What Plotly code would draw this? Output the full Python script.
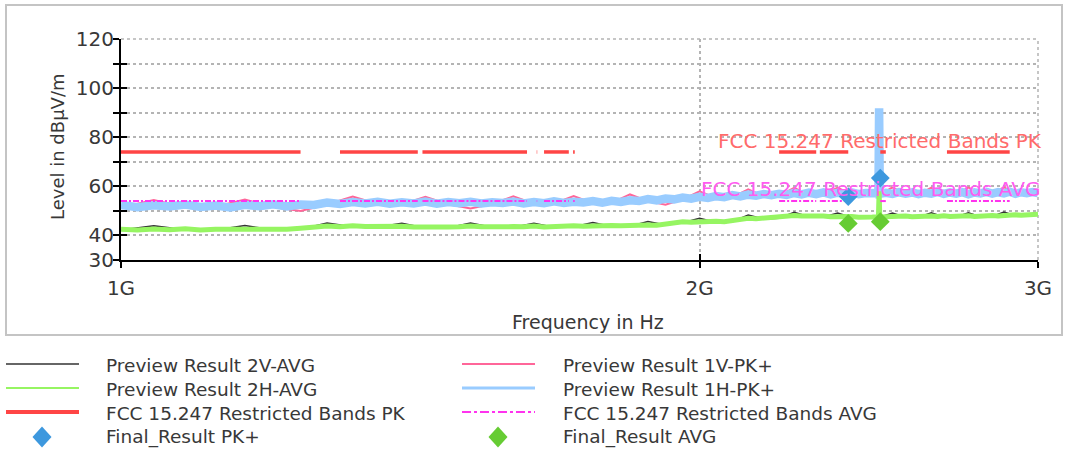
import math
import plotly.graph_objects as go

# ---------------------------------------------------------------- data
# preview sweep grids (MHz)
SCAN_MHZ = list(range(1000, 3001, 20))
SCAN_MHZ_COARSE = list(range(1000, 3001, 40))

# Preview Result 1H-PK+ (dBuV/m) on SCAN_MHZ
H1_PK = [
    52.4, 51.5, 52.3, 51.8, 52.6, 51.6, 52.2, 51.4, 52.5, 51.9,
    52.7, 51.8, 52.6, 52.4, 53.4, 52.8, 53.6, 53.0, 53.7, 52.9,
    53.5, 53.0, 53.8, 52.9, 53.6, 53.1, 53.7, 53.0, 53.5, 53.2,
    53.8, 53.0, 53.6, 53.1, 53.9, 53.2, 53.7, 53.4, 54.0, 53.3,
    54.1, 53.6, 54.3, 54.0, 54.8, 54.3, 55.0, 54.7, 55.4, 55.0,
    55.7, 55.3, 56.0, 55.6, 56.4, 55.9, 56.6, 56.2, 56.9, 56.4,
    57.0, 56.5, 57.3, 56.7, 57.4, 56.8, 57.5, 56.7, 57.4, 56.9,
    57.5, 56.8, 57.3, 56.9, 91.8, 57.4, 56.9, 57.6, 57.0, 57.5,
    56.8, 57.4, 57.0, 57.7, 56.9, 57.5, 57.0, 57.6, 56.8, 57.5,
    57.1, 57.7, 57.0, 57.6, 57.1, 57.8, 57.0, 57.6, 57.2, 57.7,
    57.2,
]

# Preview Result 2H-AVG (dBuV/m) on SCAN_MHZ
H2_AVG = [
    42.5, 42.2, 42.6, 42.3, 42.7, 42.2, 42.5, 42.4, 42.8, 42.3,
    42.6, 42.5, 42.9, 43.4, 43.8, 43.5, 43.9, 43.6, 43.8, 43.5,
    43.7, 43.4, 43.3, 43.1, 43.4, 43.5, 43.8, 43.5, 43.7, 43.4,
    43.6, 43.5, 43.8, 43.4, 43.7, 43.6, 43.9, 43.7, 44.0, 43.8,
    44.1, 43.9, 44.2, 44.0, 44.3, 44.2, 44.6, 45.3, 45.6, 45.4,
    45.7, 45.5, 45.8, 45.6, 46.0, 46.8, 47.0, 46.8, 47.1, 46.9,
    47.2, 47.6, 48.1, 47.9, 48.0, 47.7, 47.9, 47.6, 47.8, 47.5,
    47.7, 47.4, 47.7, 47.5, 58.0, 47.6, 47.8, 47.5, 47.9, 47.6,
    47.8, 47.6, 47.9, 47.7, 48.0, 47.7, 47.9, 47.6, 48.0, 47.7,
    48.0, 47.8, 48.1, 47.9, 48.2, 48.0, 48.4, 48.2, 48.5, 48.3,
    48.6,
]

# Preview Result 1V-PK+ (dBuV/m) on SCAN_MHZ_COARSE
V1_PK = [
    51.4, 54.4, 51.5, 51.7, 54.6, 51.6, 50.0, 52.6, 55.8, 52.8,
    52.6, 55.7, 52.7, 51.0, 52.8, 55.9, 52.9, 53.0, 56.0, 53.1,
    53.3, 56.7, 54.0, 52.5, 54.7, 58.0, 55.2, 55.5, 58.8, 56.0,
    56.2, 59.4, 56.5, 56.6, 59.5, 56.5, 56.6, 56.5, 59.6, 56.7,
    56.6, 59.5, 56.7, 56.6, 59.6, 56.7, 56.8, 59.7, 56.8, 56.7,
    57.0,
]

# Preview Result 2V-AVG (dBuV/m) on SCAN_MHZ_COARSE
V2_AVG = [
    42.2, 43.9, 42.3, 42.2, 44.0, 42.3, 42.5, 45.1, 43.5, 43.4,
    45.0, 43.0, 43.1, 45.1, 43.3, 43.3, 45.0, 43.3, 43.5, 45.3,
    43.7, 43.8, 45.7, 44.3, 45.2, 47.0, 45.4, 45.6, 48.3, 46.7,
    47.0, 49.4, 47.6, 47.5, 49.1, 47.3, 47.3, 47.3, 49.1, 47.4,
    47.4, 49.2, 47.5, 47.5, 49.2, 47.6, 47.7, 49.5, 48.0, 48.1,
    48.3,
]

# extra sweep points on both sides of the 2480 MHz carrier
CARRIER_MHZ = [2478, 2482]
CARRIER_H1_PK = [57.2, 57.0]
CARRIER_H2_AVG = [47.6, 47.5]

# FCC 15.205 restricted bands inside 1-3 GHz (MHz)
RESTRICTED_BANDS_MHZ = [
    (1000, 1240), (1300, 1427), (1435, 1626.5), (1645.5, 1646.5),
    (1660, 1710), (1718.8, 1722.2), (2200, 2300), (2310, 2390),
    (2483.5, 2500), (2690, 2900),
]
LIMIT_PK = 74
LIMIT_AVG = 54

# final measurements
FINAL_MHZ = [2390, 2483.5]
FINAL_PK = [55.82, 63.35]
FINAL_AVG = [44.91, 45.62]

Y_TICKS = [30, 40, 50, 60, 70, 80, 90, 100, 110, 120]
Y_TICK_TEXT = ["30", "40", "", "60", "", "80", "", "100", "", "120"]
X_TICKS_HZ = [1e9, 2e9, 3e9]
X_TICK_TEXT = ["1G", "2G", "3G"]

NAMES = [
    "Preview Result 2V-AVG", "Preview Result 1V-PK+",
    "Preview Result 2H-AVG", "Preview Result 1H-PK+",
    "FCC 15.247 Restricted Bands PK", "FCC 15.247 Restricted Bands AVG",
    "Final_Result PK+", "Final_Result AVG",
]

# ---------------------------------------------------------------- style
C_BLACK = "#333333"
C_PINK = "#ff6699"
C_GREEN = "#96f562"
C_BLUE = "#99ccff"
C_RED = "#ff4545"
C_MAGENTA = "#ff33ee"
C_DIA_BLUE = "#3d98de"
C_DIA_GREEN = "#66cc33"
C_GRID = "#b4b4b4"
TEXT = "#383838"
FONT = "DejaVu Sans"

W, H = 1068, 454
ML, MR, MT, MB = 121, 30, 39, 194
PW, PH = W - ML - MR, H - MT - MB


def px(x):
    """pixel column -> paper x"""
    return (x - ML) / PW


def py(y):
    """pixel row (from top) -> paper y"""
    return (H - MB - y) / PH


def hz(mhz_list):
    return [f * 1e6 for f in mhz_list]


def merged(base_f, base_v, extra_f, extra_v):
    pairs = sorted(zip(base_f + extra_f, base_v + extra_v))
    return hz([p[0] for p in pairs]), [p[1] for p in pairs]


def band_segments(level):
    xs, ys = [], []
    for lo, hi in RESTRICTED_BANDS_MHZ:
        xs += [lo * 1e6, hi * 1e6, None]
        ys += [level, level, None]
    return xs, ys


fig = go.Figure()

# preview scans
fig.add_trace(go.Scatter(x=hz(SCAN_MHZ_COARSE), y=V1_PK, mode="lines",
                         name=NAMES[1], line=dict(color=C_PINK, width=2)))
hx, hy = merged(SCAN_MHZ, H1_PK, CARRIER_MHZ, CARRIER_H1_PK)
fig.add_trace(go.Scatter(x=hx, y=hy, mode="lines", name=NAMES[3],
                         line=dict(color=C_BLUE, width=8.5)))
fig.add_trace(go.Scatter(x=hz(SCAN_MHZ_COARSE), y=V2_AVG, mode="lines",
                         name=NAMES[0], line=dict(color=C_BLACK, width=1.5)))
gx, gy = merged(SCAN_MHZ, H2_AVG, CARRIER_MHZ, CARRIER_H2_AVG)
fig.add_trace(go.Scatter(x=gx, y=gy, mode="lines", name=NAMES[2],
                         line=dict(color=C_GREEN, width=5)))

# limit lines
lx, ly = band_segments(LIMIT_PK)
fig.add_trace(go.Scatter(x=lx, y=ly, mode="lines", name=NAMES[4],
                         line=dict(color=C_RED, width=3.5), connectgaps=False))
ax_, ay_ = band_segments(LIMIT_AVG)
fig.add_trace(go.Scatter(x=ax_, y=ay_, mode="lines", name=NAMES[5],
                         line=dict(color=C_MAGENTA, width=2, dash="6px,2px,2px,2px"),
                         connectgaps=False))

# final results
fig.add_trace(go.Scatter(x=hz(FINAL_MHZ), y=FINAL_PK, mode="markers", name=NAMES[6],
                         marker=dict(symbol="diamond", size=14.5, color=C_DIA_BLUE)))
fig.add_trace(go.Scatter(x=hz(FINAL_MHZ), y=FINAL_AVG, mode="markers", name=NAMES[7],
                         marker=dict(symbol="diamond", size=14.5, color=C_DIA_GREEN)))

# overlay axes give ticks that cross the axis lines
fig.add_trace(go.Scatter(x=[None], y=[None], xaxis="x2", yaxis="y2",
                         showlegend=False, hoverinfo="skip"))

x_range = [9, math.log10(3e9)]
grid = dict(showgrid=True, gridcolor=C_GRID, griddash="dot", gridwidth=1.5)

fig.update_layout(
    width=W, height=H,
    margin=dict(l=ML, r=MR, t=MT, b=MB),
    paper_bgcolor="white", plot_bgcolor="white",
    showlegend=False,
    font=dict(family=FONT, color=TEXT),
    xaxis=dict(type="log", range=x_range, tickvals=X_TICKS_HZ, ticktext=X_TICK_TEXT,
               ticks="outside", ticklen=6, tickwidth=1.5, tickcolor="black",
               showline=True, linecolor="black", linewidth=2, zeroline=False,
               tickfont=dict(size=20, color=TEXT, family=FONT),
               ticklabelstandoff=3, **grid),
    yaxis=dict(range=[30, 120], tickvals=Y_TICKS, ticktext=Y_TICK_TEXT,
               ticks="outside", ticklen=6, tickwidth=2, tickcolor="black",
               showline=True, linecolor="black", linewidth=2, zeroline=False,
               tickfont=dict(size=20, color=TEXT, family=FONT),
               ticklabelstandoff=-5, **grid),
    xaxis2=dict(type="log", range=x_range, overlaying="x", anchor="y",
                tickvals=X_TICKS_HZ, ticks="inside", ticklen=6, tickwidth=1.5,
                tickcolor="black", showticklabels=False, showgrid=False,
                zeroline=False, side="bottom"),
    yaxis2=dict(range=[30, 120], overlaying="y", anchor="x", tickvals=Y_TICKS,
                ticks="inside", ticklen=6, tickwidth=2, tickcolor="black",
                showticklabels=False, showgrid=False, zeroline=False, side="left"),
)

shapes = []
annotations = []

# outer frame around the diagram
shapes.append(dict(type="rect", xref="paper", yref="paper",
                   x0=px(6), x1=px(1062), y0=py(335), y1=py(5),
                   line=dict(color="#c4c4c4", width=2), fillcolor="rgba(0,0,0,0)",
                   layer="below"))
# grid lines on the top and right edges of the plot area
shapes.append(dict(type="line", xref="paper", yref="paper", x0=0, x1=1, y0=1, y1=1,
                   line=dict(color=C_GRID, width=1.5, dash="dot"), layer="below"))
shapes.append(dict(type="line", xref="paper", yref="paper", x0=1, x1=1, y0=0, y1=1,
                   line=dict(color=C_GRID, width=1.5, dash="dot"), layer="below"))

# axis titles
annotations.append(dict(text="Level in dBµV/m", xref="paper", yref="paper",
                        x=px(57), y=py(147), textangle=-90, showarrow=False,
                        xanchor="center", yanchor="middle",
                        font=dict(size=18, color=TEXT, family=FONT)))
annotations.append(dict(text="Frequency in Hz", xref="paper", yref="paper",
                        x=px(588), y=py(322), showarrow=False,
                        xanchor="center", yanchor="middle",
                        font=dict(size=19, color=TEXT, family=FONT)))

# limit line captions
annotations.append(dict(text=NAMES[4], xref="paper", yref="paper",
                        x=px(716), y=py(141), showarrow=False,
                        xanchor="left", yanchor="middle",
                        font=dict(size=20, color="#ff6b6b", family=FONT)))
annotations.append(dict(text=NAMES[5], xref="paper", yref="paper",
                        x=px(699), y=py(189), showarrow=False,
                        xanchor="left", yanchor="middle",
                        font=dict(size=20, color="#ff5cf0", family=FONT)))

# legend below the diagram (two columns, four rows)
ROWS_Y = [365, 389, 413, 437]
COLS = [dict(x0=6, x1=79, dia=42, tx=104), dict(x0=462, x1=535, dia=498, tx=561)]
LEGEND = [
    (0, 0, NAMES[0], "line", C_BLACK, 1.5, "solid"),
    (0, 1, NAMES[2], "line", C_GREEN, 2, "solid"),
    (0, 2, NAMES[4], "line", C_RED, 4, "solid"),
    (0, 3, NAMES[6], "diamond", C_DIA_BLUE, 0, None),
    (1, 0, NAMES[1], "line", C_PINK, 2, "solid"),
    (1, 1, NAMES[3], "line", C_BLUE, 3, "solid"),
    (1, 2, NAMES[5], "line", C_MAGENTA, 2, "dashdot"),
    (1, 3, NAMES[7], "diamond", C_DIA_GREEN, 0, None),
]
for col, row, label, kind, color, width, dash in LEGEND:
    c = COLS[col]
    yy = ROWS_Y[row]
    if kind == "line":
        shapes.append(dict(type="line", xref="paper", yref="paper",
                           x0=px(c["x0"]), x1=px(c["x1"]), y0=py(yy - 1), y1=py(yy - 1),
                           line=dict(color=color, width=width, dash=dash)))
    else:
        cx, cy, hw, hh = c["dia"], yy, 9.5, 10.5
        path = "M {} {} L {} {} L {} {} L {} {} Z".format(
            px(cx), py(cy - hh), px(cx + hw), py(cy),
            px(cx), py(cy + hh), px(cx - hw), py(cy))
        shapes.append(dict(type="path", xref="paper", yref="paper", path=path,
                           fillcolor=color, line=dict(width=0)))
    annotations.append(dict(text=label, xref="paper", yref="paper",
                            x=px(c["tx"]), y=py(yy), showarrow=False,
                            xanchor="left", yanchor="middle",
                            font=dict(size=18.5, color=TEXT, family=FONT)))

fig.update_layout(shapes=shapes, annotations=annotations)

fig.write_html("out.html")
